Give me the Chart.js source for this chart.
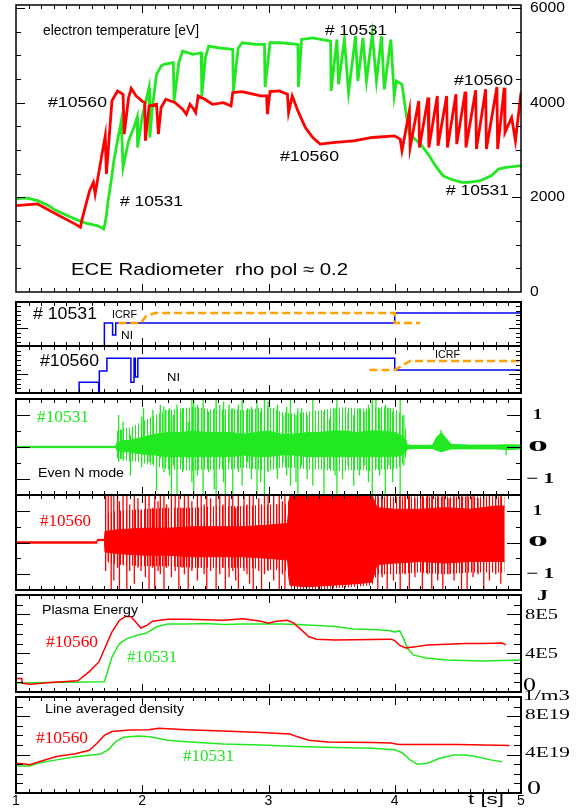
<!DOCTYPE html>
<html><head><meta charset="utf-8">
<script src="https://cdn.jsdelivr.net/npm/chart.js@4/dist/chart.umd.min.js"></script>
<style>
html,body{margin:0;padding:0;background:#fff;}
#wrap{position:relative;width:583px;height:809px;overflow:hidden;background:#fff;}
canvas{position:absolute;left:0;}
</style></head><body><div id="wrap"></div>
<script>
// ---------------- DATA ----------------
// Panel 1: electron temperature [eV]
const teGreenT = [1.000,1.082,1.171,1.259,1.318,1.406,1.465,1.554,1.642,1.695,1.710,1.730,1.754,1.775,1.804,1.834,1.848,1.892,1.937,1.960,1.963,2.000,2.054,2.060,2.080,2.113,2.150,2.172,2.246,2.252,2.290,2.320,2.400,2.467,2.472,2.500,2.526,2.600,2.717,2.722,2.760,2.791,2.900,2.968,2.973,3.012,3.100,3.233,3.237,3.262,3.350,3.492,3.496,3.542,3.555,3.601,3.634,3.689,3.708,3.748,3.776,3.822,3.855,3.895,3.917,3.969,3.996,4.013,4.057,4.087,4.116,4.205,4.264,4.322,4.381,4.440,4.529,4.588,4.676,4.764,4.823,4.882,5.000];
const teGreenV = [1966,1987,1931,1825,1720,1615,1544,1453,1404,1334,1509,1931,2352,2773,3194,3615,2633,3194,3500,3700,3054,3700,4317,3264,3900,4598,4774,4809,4844,4037,4850,5090,5019,5050,4142,4950,5195,5160,5125,4247,5150,5265,5230,5230,4331,5265,5265,5230,4331,5335,5370,5300,4247,5335,4388,5335,4212,5405,4458,5370,4458,5441,4458,5405,4282,5335,4142,4458,4388,3826,3335,3124,2913,2668,2457,2387,2317,2317,2352,2457,2597,2633,2668];
const teRedT = [1.000,1.171,1.318,1.465,1.510,1.524,1.583,1.613,1.627,1.672,1.707,1.716,1.760,1.804,1.848,1.857,1.892,1.913,1.951,1.996,2.019,2.025,2.054,2.113,2.128,2.149,2.187,2.261,2.320,2.349,2.378,2.408,2.423,2.443,2.496,2.555,2.644,2.703,2.717,2.791,2.938,2.985,2.991,3.012,3.085,3.150,3.159,3.188,3.233,3.292,3.351,3.409,3.527,3.675,3.822,3.998,4.043,4.057,4.116,4.122,4.190,4.196,4.264,4.270,4.337,4.343,4.411,4.417,4.485,4.491,4.558,4.564,4.641,4.647,4.720,4.726,4.809,4.815,4.867,4.873,4.926,4.956,5.000];
const teRedV = [1825,1860,1650,1439,1369,1544,2141,2317,2071,2773,3299,2492,4037,4247,4177,3335,4107,4303,4142,4037,4001,3194,3931,3966,3335,3896,4072,4001,3861,3756,3966,3861,3791,4142,4072,3966,4001,3931,4212,4233,4142,4142,3756,4233,4247,4177,3791,4142,3826,3475,3264,3124,3159,3194,3264,3299,3229,2984,3826,3054,4037,3054,4107,3054,4142,3089,4142,3054,4177,3124,4233,3054,4261,3019,4282,3019,4331,3019,4317,3370,3686,3194,4212];
const teTickVals = [0,2000,4000,6000];
const teTickText = ['0','2000','4000','6000'];

// Panel 2: heating waveforms (relative power)
const ni10531T = [1.0,1.70,1.70,1.765,1.765,1.79,1.79,4.0,4.0,5.0,5.0];
const ni10531V = [0,0,0.52,0.52,0.25,0.25,0.52,0.52,0.75,0.75,0.52];
const ic10531T = [1.81,1.99,2.03,2.1,4.0,4.0,4.2];
const ic10531V = [0.52,0.52,0.68,0.75,0.75,0.52,0.52];
const ni10560T = [1.0,1.5,1.5,1.655,1.655,1.66,1.66,1.72,1.72,1.91,1.91,1.935,1.935,1.945,1.945,1.965,1.965,4.0,4.0,5.0];
const ni10560V = [0,0,0.23,0.23,0,0,0.47,0.47,0.74,0.74,0.23,0.23,0.74,0.74,0.34,0.34,0.74,0.74,0.49,0.49];
const ic10560T = [3.8,4.0,4.12,5.0];
const ic10560V = [0.49,0.49,0.68,0.68];

// Panel 3: even N mode #10531 (outer burst envelope, dense core, single bursts)
const gEnvT  = [1.0,1.79,1.80,1.85,1.9,1.95,2.0,2.05,2.1,2.2,2.3,2.4,2.5,2.6,2.7,2.8,2.9,3.0,3.1,3.2,3.3,3.4,3.5,3.6,3.7,3.8,3.9,4.0,4.06,4.09,4.1,4.2,4.3,4.33,4.37,4.41,4.45,4.6,4.8,4.9,5.0];
const gEnvHi = [0.02,0.02,0.5,0.6,0.6,0.7,0.8,0.9,1.0,1.15,1.2,1.25,1.2,1.15,1.2,1.15,1.2,1.25,1.1,1.05,1.1,1.15,1.2,1.25,1.2,1.2,1.25,1.2,1.0,0.5,0.06,0.05,0.06,0.3,0.45,0.25,0.08,0.06,0.06,0.07,0.06];
const gEnvLo = [-0.02,-0.02,-0.35,-0.4,-0.45,-0.45,-0.5,-0.55,-0.6,-0.7,-0.7,-0.75,-0.7,-0.7,-0.7,-0.65,-0.7,-0.75,-0.65,-0.65,-0.7,-0.7,-0.75,-0.75,-0.7,-0.75,-0.7,-0.7,-0.55,-0.3,-0.06,-0.05,-0.05,-0.1,-0.15,-0.1,-0.06,-0.06,-0.06,-0.08,-0.06];
const gCoreHi = [0.02,0.02,0.15,0.2,0.2,0.25,0.3,0.35,0.4,0.45,0.45,0.5,0.45,0.45,0.45,0.4,0.45,0.5,0.4,0.4,0.45,0.45,0.5,0.5,0.45,0.5,0.5,0.45,0.35,0.2,0.06,0.05,0.06,0.3,0.45,0.25,0.08,0.06,0.06,0.07,0.06];
const gCoreLo = [-0.02,-0.02,-0.12,-0.15,-0.15,-0.2,-0.2,-0.25,-0.25,-0.3,-0.3,-0.3,-0.3,-0.3,-0.3,-0.25,-0.3,-0.3,-0.25,-0.25,-0.3,-0.3,-0.3,-0.3,-0.3,-0.3,-0.3,-0.3,-0.25,-0.15,-0.06,-0.05,-0.05,-0.1,-0.15,-0.1,-0.06,-0.06,-0.06,-0.08,-0.06];
const gSpkT  = [1.813,1.834,1.848,1.907,1.922,1.996,2.010,2.054,2.084,2.113,2.143,2.172,2.187,2.216,2.231,2.246,2.275,2.305,2.320,2.364,2.393,2.408,2.437,2.482,2.526,2.570,2.585,2.614,2.644,2.658,2.688,2.717,2.761,2.791,2.835,2.864,2.909,2.938,2.968,2.997,3.041,3.071,3.115,3.144,3.174,3.218,3.233,3.262,3.306,3.351,3.395,3.439,3.483,3.527,3.542,3.586,3.630,3.675,3.719,3.763,3.792,3.822,3.851,3.881,3.925,3.954,3.984,4.013,4.043,4.072,4.367,4.882];
const gSpkHi = [1.0,0.53,0.79,0.37,0.58,0.95,1.21,0.37,1.16,0.79,1.32,1.26,1.16,1.21,0.89,1.0,1.32,1.11,1.21,0.79,1.5,1.47,1.32,1.5,1.11,1.21,1.5,1.32,1.42,1.0,1.32,1.21,1.32,1.47,1.21,1.26,1.5,1.11,1.5,1.42,1.21,1.32,1.0,1.26,1.47,1.0,1.21,1.21,1.0,1.5,0.79,1.11,0.89,1.21,1.5,0.89,1.11,1.0,1.21,1.11,1.32,1.47,1.5,1.21,1.32,1.21,1.11,1.0,1.5,1.0,0.53,0.05];
const gSpkLo = [-0.47,-0.37,-0.42,-0.89,-0.26,-0.63,-0.26,-0.47,-0.53,-1.37,-0.37,-0.79,-0.47,-0.89,-1.5,-0.58,-1.5,-0.47,-0.79,-0.37,-1.1,-1.5,-0.89,-1.5,-0.79,-1.32,-1.5,-0.58,-1.1,-1.5,-0.47,-1.5,-0.79,-1.21,-0.47,-1.0,-1.5,-1.1,-1.5,-0.79,-0.58,-1.0,-0.47,-0.89,-1.21,-1.1,-1.5,-0.58,-1.0,-1.21,-0.47,-1.5,-0.68,-0.89,-1.5,-1.0,-0.58,-1.21,-0.89,-0.58,-1.1,-1.5,-0.68,-0.89,-1.5,-0.58,-1.1,-0.68,-1.5,-0.58,-0.1,-0.26];

// Panel 4: even N mode #10560
const rEnvT  = [1.0,1.6,1.64,1.645,1.70,1.705,1.8,2.0,2.2,2.4,2.6,2.8,3.0,3.15,3.17,3.3,3.5,3.7,3.82,3.86,4.0,4.2,4.4,4.6,4.8,4.87];
const rEnvHi = [0.02,0.02,0.02,0.1,0.1,0.9,1.0,1.05,1.1,1.1,1.15,1.15,1.2,1.2,1.5,1.5,1.5,1.5,1.5,1.45,1.45,1.45,1.45,1.45,1.45,1.45];
const rEnvLo = [-0.02,-0.02,-0.02,0.06,0.06,-0.6,-0.7,-0.75,-0.75,-0.8,-0.8,-0.8,-0.85,-0.9,-1.45,-1.5,-1.45,-1.4,-1.35,-1.0,-1.0,-0.95,-1.0,-0.95,-0.95,-0.95];
const rCoreHi = [0.02,0.02,0.02,0.1,0.1,0.35,0.4,0.45,0.45,0.5,0.5,0.5,0.55,0.6,1.5,1.5,1.5,1.5,1.5,1.1,1.05,1.05,1.1,1.05,1.15,1.15];
const rCoreLo = [-0.02,-0.02,-0.02,0.06,0.06,-0.3,-0.35,-0.4,-0.4,-0.45,-0.45,-0.45,-0.5,-0.55,-1.35,-1.4,-1.35,-1.3,-1.25,-0.7,-0.65,-0.6,-0.65,-0.6,-0.6,-0.6];
const rSpkT  = [1.710,1.730,1.754,1.775,1.804,1.819,1.848,1.878,1.901,1.937,1.966,1.990,2.025,2.054,2.080,2.099,2.125,2.143,2.172,2.193,2.231,2.261,2.290,2.315,2.334,2.364,2.393,2.437,2.467,2.490,2.511,2.541,2.585,2.614,2.640,2.658,2.688,2.717,2.740,2.761,2.806,2.830,2.850,2.879,2.923,2.945,2.968,2.997,3.041,3.065,3.085,3.110,3.130,3.866,3.900,3.940,3.990,4.043,4.080,4.116,4.160,4.219,4.260,4.293,4.340,4.381,4.430,4.470,4.529,4.573,4.620,4.660,4.705,4.750,4.800,4.840];
const rSpkHi = [1.5,1.5,1.5,1.5,1.5,1.3,1.5,1.5,1.2,1.5,1.4,1.0,1.5,1.5,1.1,1.5,1.3,1.5,1.5,1.2,1.5,1.5,1.5,1.1,1.5,1.5,1.3,1.5,1.5,1.2,1.5,1.4,1.5,1.5,1.2,1.5,1.5,1.5,1.1,1.5,1.5,1.2,1.5,1.5,1.4,1.2,1.5,1.5,1.5,1.2,1.5,1.3,1.5,1.5,1.5,1.5,1.4,1.5,1.5,1.5,1.4,1.5,1.5,1.5,1.5,1.5,1.4,1.5,1.5,1.5,1.5,1.4,1.5,1.5,1.5,1.5];
const rSpkLo = [-0.9,-0.6,-1.5,-1.2,-0.8,-1.5,-0.7,-1.5,-0.9,-1.3,-0.8,-0.9,-1.1,-1.5,-0.8,-1.5,-0.9,-1.0,-1.5,-0.8,-1.1,-0.9,-1.5,-0.8,-1.0,-1.5,-0.9,-1.2,-0.8,-1.0,-1.5,-0.9,-1.5,-1.0,-0.8,-1.5,-1.1,-0.9,-1.2,-1.5,-0.9,-1.0,-1.3,-1.5,-0.9,-1.5,-1.0,-0.9,-1.2,-0.8,-1.5,-1.0,-1.5,-1.5,-1.1,-1.5,-1.2,-1.5,-1.0,-1.5,-1.1,-1.5,-1.0,-1.5,-1.2,-1.5,-1.0,-1.2,-1.5,-1.5,-1.1,-1.0,-1.5,-1.2,-1.0,-1.3];
const mirTickVals = [1,0,-1];
const mirTickText = ['1','0','\u2212 1'];

// Panel 5: plasma energy [1E5 J]
const weRedT = [1.0,1.045,1.05,1.11,1.3,1.49,1.58,1.657,1.70,1.76,1.82,1.87,1.91,1.95,1.99,2.04,2.08,2.2,2.35,2.5,2.64,2.8,2.94,3.0,3.06,3.15,3.2,3.26,3.32,3.38,3.53,3.82,3.97,4.0,4.04,4.087,4.15,4.26,4.56,4.7,4.85,4.88];
const weRedV = [1.4,1.4,0.9,0.8,1.0,1.15,2.1,3.1,4.4,6.2,7.4,7.8,7.75,7.2,6.6,6.9,7.3,7.5,7.5,7.45,7.4,7.55,7.3,7.1,7.3,7.4,7.1,6.4,5.7,5.45,5.35,5.4,5.45,5.3,4.8,4.55,4.65,4.85,5.0,5.0,5.05,4.85];
const weGreenT = [1.0,1.1,1.4,1.70,1.76,1.82,1.88,1.97,2.03,2.11,2.2,2.35,2.5,2.65,2.8,2.94,3.1,3.23,3.38,3.53,3.67,3.82,3.95,4.0,4.04,4.07,4.1,4.15,4.25,4.41,4.55,4.7,4.85,5.0];
const weGreenV = [0.9,0.95,1.0,1.05,3.6,5.0,5.5,5.9,6.05,6.7,7.0,7.0,7.05,6.95,7.0,7.0,7.0,6.95,6.85,6.75,6.5,6.45,6.35,6.2,6.3,5.5,4.5,3.8,3.5,3.3,3.25,3.2,3.25,3.3];
const weTickVals = [0,4,8];
const weTickText = ['0','4E5','8E5'];

// Panel 6: line averaged density [1E19 1/m3]
const neRedT = [1.0,1.05,1.11,1.17,1.32,1.47,1.58,1.64,1.70,1.76,1.9,2.05,2.13,2.35,2.64,2.94,3.17,3.23,3.32,3.47,3.82,3.97,4.03,4.5,4.7,4.91];
const neRedV = [3.1,3.05,2.95,3.2,3.8,4.1,4.45,5.15,6.0,6.4,6.55,6.6,6.75,6.6,6.45,6.3,6.15,5.85,5.5,5.3,5.25,5.2,5.05,5.05,5.0,4.95];
const neGreenT = [1.0,1.11,1.17,1.32,1.47,1.67,1.73,1.79,1.85,1.97,2.06,2.2,2.35,2.64,2.94,3.23,3.53,3.82,4.0,4.06,4.12,4.18,4.26,4.35,4.47,4.56,4.64,4.76,4.85];
const neGreenV = [2.8,2.8,3.1,3.45,3.78,4.06,4.5,5.35,5.8,5.95,5.85,5.5,5.35,5.1,5.0,4.85,4.75,4.65,4.5,4.2,3.45,3.0,3.1,3.6,3.95,3.95,3.8,3.45,3.25];
const neTickVals = [0,4,8];
const neTickText = ['0','4E19','8E19'];

const timeTickVals = [1,2,3,4,5];
const timeTickText = ['1','2','3','4','5'];

// ---------------- RENDER ----------------
const wrap = document.getElementById('wrap');
const W = 583, L = 16, R = 521;
const SANS = "'Liberation Sans', Arial, sans-serif";
const SERIF = "'Liberation Serif', 'Times New Roman', serif";
const GREEN = '#22e822', RED = '#ff0000', BLUE = '#0000f0', ORANGE = '#ffa200';

function stripes(color, period, on) {
  const c = document.createElement('canvas');
  c.width = period; c.height = 1;
  const x = c.getContext('2d');
  x.fillStyle = color; x.fillRect(0, 0, on, 1);
  return x.createPattern(c, 'repeat');
}

const pts = (xs, ys) => xs.map((x, i) => ({x, y: ys[i]}));
function spikes(ts, hi, lo) {
  const out = [];
  ts.forEach((t, i) => { out.push({x: t, y: lo[i]}, {x: t, y: hi[i]}, {x: t, y: null}); });
  return out;
}
function line(data, color, width, extra) {
  return Object.assign({data, borderColor: color, backgroundColor: color, borderWidth: width,
    pointRadius: 0, fill: false, spanGaps: false, tension: 0}, extra || {});
}

function drawText(ctx, t, offY) {
  ctx.save();
  ctx.font = (t.weight || 'normal') + ' ' + t.size + 'px ' + (t.family || SANS);
  ctx.fillStyle = t.color || '#000';
  ctx.textBaseline = 'middle';
  ctx.textAlign = 'left';
  const m = ctx.measureText(t.text).width;
  const sx = t.w ? t.w / m : (t.sx || 1);
  let x = t.x;
  if (t.cx !== undefined) x = t.cx - m * sx / 2;
  ctx.translate(x, t.y - offY);
  ctx.scale(sx, 1);
  ctx.fillText(t.text, 0, 0);
  ctx.restore();
}

function drawFrame(chart, o, offY) {
  const ctx = chart.ctx, a = chart.chartArea, xs = chart.scales.x, ys = chart.scales.y;
  ctx.save();
  ctx.strokeStyle = '#000';
  ctx.lineWidth = 1;
  ctx.beginPath();
  for (let i = 1; i < 40; i++) {
    const px = Math.round(xs.getPixelForValue(1 + i * 0.1)) + 0.5;
    const len = i % 10 === 0 ? 8 : 4;
    ctx.moveTo(px, a.bottom); ctx.lineTo(px, a.bottom - len);
    ctx.moveTo(px, a.top); ctx.lineTo(px, a.top + len);
  }
  const n0 = Math.ceil(ys.min / o.yStep - 1e-9), n1 = Math.floor(ys.max / o.yStep + 1e-9);
  for (let k = n0; k <= n1; k++) {
    const v = k * o.yStep;
    const py = Math.round(ys.getPixelForValue(v)) + 0.5;
    if (py <= a.top + 1.5 || py >= a.bottom - 1.5) continue;
    const maj = o.yMajorVals ? o.yMajorVals.some(m => Math.abs(m - v) < 1e-9)
                             : Math.abs(v / o.yMajor - Math.round(v / o.yMajor)) < 1e-6;
    const len = maj ? o.yMajLen : o.yMinLen;
    ctx.moveTo(a.left, py); ctx.lineTo(a.left + len, py);
    ctx.moveTo(a.right, py); ctx.lineTo(a.right - len, py);
  }
  ctx.stroke();
  ctx.lineWidth = o.lw || 2;
  ctx.strokeRect(a.left, a.top, a.right - a.left, a.bottom - a.top);
  ctx.restore();
  (o.texts || []).forEach(t => drawText(ctx, t, offY));
  if (o.yVals) o.yVals.forEach((v, i) => {
    const st = o.yStyle(v, i);
    drawText(ctx, Object.assign({text: o.yText[i], y: ys.getPixelForValue(v) + offY + (st.dy || 0)}, st), offY);
  });
  if (o.xVals) o.xVals.forEach((v, i) => {
    drawText(ctx, Object.assign({text: o.xText[i], cx: xs.getPixelForValue(v)}, o.xStyle), offY);
  });
}

function panel(top, bottom, yMin, yMax, datasets, cfg, padT, padB) {
  const c = document.createElement('canvas');
  const H = bottom - top + padT + padB;
  c.width = W; c.height = H;
  c.style.top = (top - padT) + 'px';
  c.style.width = W + 'px'; c.style.height = H + 'px';
  wrap.appendChild(c);
  const offY = top - padT;
  return new Chart(c.getContext('2d'), {
    type: 'line',
    data: {datasets},
    options: {
      responsive: false, animation: false, devicePixelRatio: 1, events: [],
      layout: {padding: {left: L, right: W - R, top: padT, bottom: padB}},
      plugins: {legend: {display: false}, tooltip: {enabled: false}},
      scales: {
        x: {type: 'linear', min: 1, max: 5, display: false},
        y: {type: 'linear', min: yMin, max: yMax, display: false}
      },
      elements: {point: {radius: 0}, line: {tension: 0}}
    },
    plugins: [{id: 'frame', afterDatasetsDraw(chart) { drawFrame(chart, cfg, offY); }}]
  });
}

// Panel 1
panel(5, 292, 0, 6063, [
  line(pts(teRedT, teRedV), RED, 2.8),
  line(pts(teGreenT, teGreenV), GREEN, 2.8)
], {
  lw: 1.5, yStep: 500, yMajor: 2000, yMinLen: 5, yMajLen: 9,
  yVals: teTickVals, yText: teTickText,
  yStyle: (v) => ({x: 530, size: 14, sx: 1.12}),
  texts: [
    {text: 'electron temperature [eV]', x: 43, y: 31, w: 156, size: 14},
    {text: '# 10531', x: 325, y: 31, w: 62, size: 15},
    {text: '#10560', x: 48, y: 103, w: 59, size: 15},
    {text: '# 10531', x: 120, y: 202, w: 63, size: 15},
    {text: '#10560', x: 280, y: 157, w: 59, size: 15},
    {text: '#10560', x: 454, y: 81, w: 59, size: 15},
    {text: '# 10531', x: 446, y: 191, w: 63, size: 15},
    {text: 'ECE Radiometer  rho pol \u2248 0.2', x: 71, y: 270, w: 277, size: 17}
  ]
}, 5, 10);

// Panel 2a (#10531 heating)
panel(302, 346, 0, 1, [
  line(pts(ic10531T, ic10531V), ORANGE, 2.5, {borderDash: [8, 4]}),
  line(pts(ni10531T, ni10531V), BLUE, 1.5)
], {
  yStep: 0.1, yMajorVals: [0.4], yMinLen: 5, yMajLen: 12,
  texts: [
    {text: '# 10531', x: 33, y: 315, w: 64, size: 16},
    {text: 'ICRF', x: 112, y: 315, w: 25, size: 10},
    {text: 'NI', x: 121, y: 336, w: 12, size: 10}
  ]
}, 8, 3);

// Panel 2b (#10560 heating)
panel(346, 393, 0, 1, [
  line(pts(ic10560T, ic10560V), ORANGE, 2.5, {borderDash: [8, 4]}),
  line(pts(ni10560T, ni10560V), BLUE, 1.5)
], {
  yStep: 0.1, yMajorVals: [0.4], yMinLen: 5, yMajLen: 12,
  texts: [
    {text: '#10560', x: 40, y: 362, w: 59, size: 16},
    {text: 'NI', x: 167, y: 378, w: 13, size: 10},
    {text: 'ICRF', x: 435, y: 355, w: 25, size: 10}
  ]
}, 3, 4);

const mirStyle = (v) => v === 0 ? {x: 528, w: 20, size: 15, family: SERIF, weight: 'bold'}
  : v > 0 ? {x: 533, w: 9, size: 15, family: SERIF, weight: 'bold'}
  : {x: 526, w: 28, size: 15, family: SERIF, weight: 'bold'};

function mirnovSets(color, spT, spHi, spLo, envT, outLo, outHi, coreLo, coreHi) {
  return [
    line(spikes(spT, spHi, spLo), color, 1.3),
    line(pts(envT, outLo), 'rgba(0,0,0,0)', 0),
    line(pts(envT, outHi), 'rgba(0,0,0,0)', 0, {fill: '-1', backgroundColor: stripes(color, 3, 1)}),
    line(pts(envT, coreLo), color, 1),
    line(pts(envT, coreHi), color, 1, {fill: '-1'})
  ];
}

// Panel 3 (#10531 Mirnov)
panel(399, 495, -1.5, 1.5,
  mirnovSets(GREEN, gSpkT, gSpkHi, gSpkLo, gEnvT, gEnvLo, gEnvHi, gCoreLo, gCoreHi), {
  yStep: 0.5, yMajor: 1, yMinLen: 5, yMajLen: 14,
  yVals: mirTickVals, yText: mirTickText, yStyle: mirStyle,
  texts: [
    {text: '#10531', x: 37, y: 418, w: 52, size: 17, family: SERIF, color: GREEN},
    {text: 'Even N mode', x: 38, y: 473, w: 86, size: 13}
  ]
}, 6, 2);

// Panel 4 (#10560 Mirnov)
panel(495, 590, -1.5, 1.5,
  mirnovSets(RED, rSpkT, rSpkHi, rSpkLo, rEnvT, rEnvLo, rEnvHi, rCoreLo, rCoreHi), {
  yStep: 0.5, yMajor: 1, yMinLen: 5, yMajLen: 14,
  yVals: mirTickVals, yText: mirTickText, yStyle: mirStyle,
  texts: [
    {text: '#10560', x: 40, y: 522, w: 51, size: 17, family: SERIF, color: RED},
    {text: 'J', x: 537, y: 596, w: 11, size: 15, family: SERIF, weight: 'bold'}
  ]
}, 2, 14);

// Panel 5 (plasma energy)
panel(595, 692, 0, 10, [
  line(pts(weRedT, weRedV), RED, 1.5),
  line(pts(weGreenT, weGreenV), GREEN, 1.5)
], {
  yStep: 1, yMajor: 4, yMinLen: 7, yMajLen: 14,
  yVals: weTickVals, yText: weTickText,
  yStyle: (v) => v === 0 ? {x: 523, w: 13, size: 18, family: SERIF, dy: -6}
                         : {x: 525, w: 33, size: 14, family: SERIF, dy: 1},
  texts: [
    {text: 'Plasma Energy', x: 42, y: 610, w: 96, size: 13},
    {text: '#10560', x: 46, y: 643, w: 52, size: 17, family: SERIF, color: RED},
    {text: '#10531', x: 127, y: 658, w: 50, size: 17, family: SERIF, color: GREEN}
  ]
}, 4, 6);

// Panel 6 (density)
panel(697, 793, 0, 10, [
  line(pts(neRedT, neRedV), RED, 1.5),
  line(pts(neGreenT, neGreenV), GREEN, 1.5)
], {
  yStep: 1, yMajor: 4, yMinLen: 7, yMajLen: 14,
  yVals: neTickVals, yText: neTickText,
  yStyle: (v) => v === 0 ? {x: 527, w: 14, size: 18, family: SERIF, dy: -4}
                         : {x: 525, w: 45, size: 14, family: SERIF, dy: -1},
  xVals: timeTickVals, xText: timeTickText,
  xStyle: {y: 801, size: 14},
  texts: [
    {text: '1/m3', x: 523, y: 696, w: 47, size: 14, family: SERIF},
    {text: 'Line averaged density', x: 45, y: 709, w: 139, size: 13},
    {text: '#10560', x: 36, y: 739, w: 52, size: 17, family: SERIF, color: RED},
    {text: '#10531', x: 183, y: 757, w: 51, size: 17, family: SERIF, color: GREEN},
    {text: 't [s]', x: 468, y: 800, w: 36, size: 14}
  ]
}, 9, 16);
</script>
</body></html>
